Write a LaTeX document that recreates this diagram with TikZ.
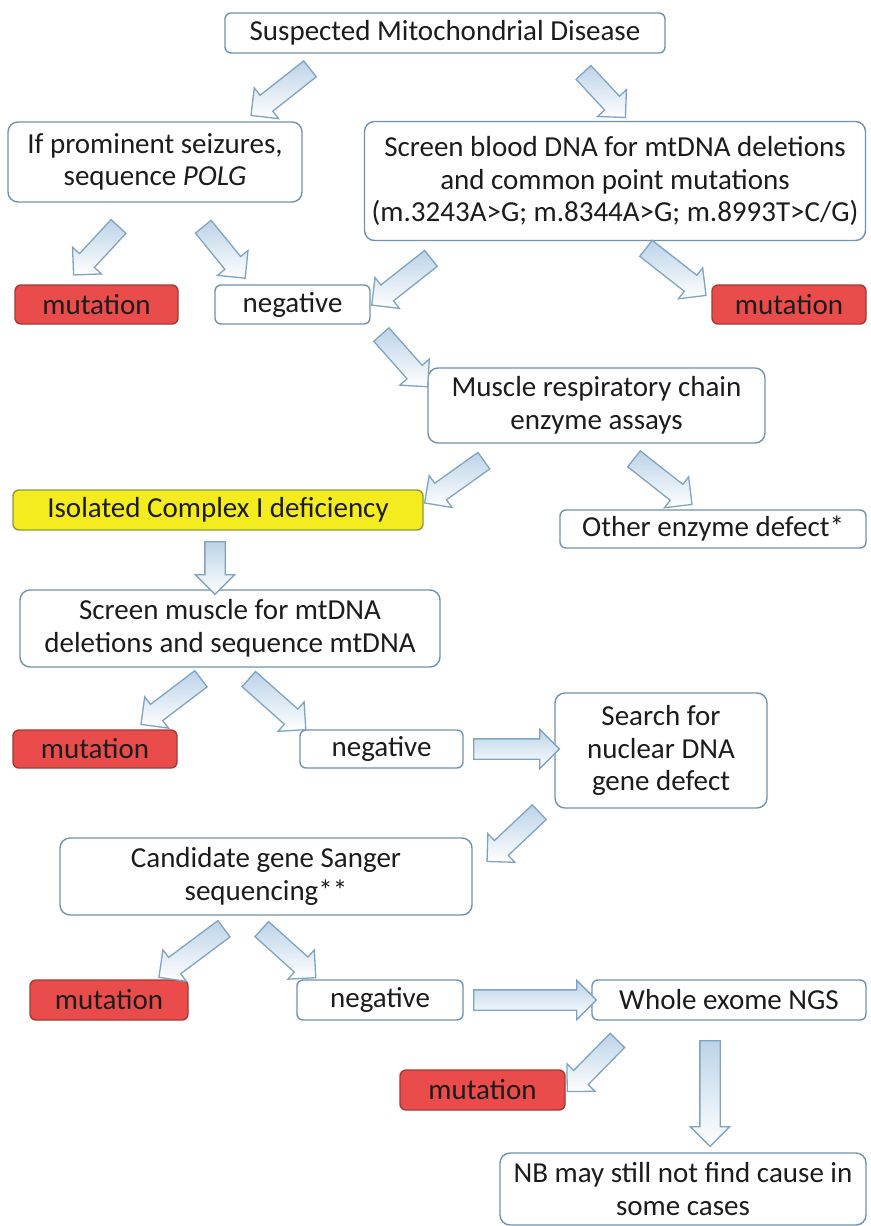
\documentclass[tikz,border=0pt]{standalone}
\usepackage{fontspec}
\setmainfont{Carlito}
\usetikzlibrary{shapes.arrows,calc}
\definecolor{bord}{HTML}{6F93AE}
\definecolor{txt}{HTML}{1C1C1C}
\definecolor{redfill}{HTML}{EA4B4B}
\definecolor{redbord}{HTML}{A33A34}
\definecolor{yelfill}{HTML}{F4EC1E}
\definecolor{yelbord}{HTML}{8E9A3C}
\definecolor{arrfill}{HTML}{BCD3E8}
\definecolor{arrbord}{HTML}{7FA4C3}
\newcommand\barrow[2]{%
  \path let \p1=(#1), \p2=(#2), \n1={atan2(\y2-\y1,\x2-\x1)}, \n2={veclen(\x2-\x1,\y2-\y1)} in
    node[barr, rotate=\n1, minimum height=\n2] at ($(\p1)!0.5!(\p2)$) {};}
\begin{document}
\begin{tikzpicture}[x=1pt,y=-1pt,
  box/.style={draw=bord, line width=1.4pt, fill=white, rounded corners=10pt, align=center,
    inner sep=0pt, font=\fontsize{29}{32.5}\selectfont, text=txt},
  sbox/.style={box, rounded corners=6pt},
  mutbox/.style={sbox, fill=redfill, draw=redbord},
  yelbox/.style={sbox, fill=yelfill, draw=yelbord},
  barr/.style={single arrow, draw=arrbord, line width=1.3pt, top color=arrfill, bottom color=white,
    text height=19pt, text depth=0pt, inner sep=0pt, single arrow head extend=9.5pt,
    single arrow tip angle=90}]
\useasboundingbox (0,0) rectangle (870,1226);
\fill[white] (0,0) rectangle (870,1226);

\node[sbox, minimum width=440pt, minimum height=40pt] (sus) at (445,33) {Suspected Mitochondrial Disease};
\node[box, minimum width=294pt, minimum height=80pt] (seiz) at (155,162) {If prominent seizures,\\ sequence \textit{POLG}};
\node[box, minimum width=501pt, minimum height=119pt] (blood) at (615,181) {Screen blood DNA for mtDNA deletions\\ and common point mutations\\ (m.3243A>G; m.8344A>G; m.8993T>C/G)};
\node[mutbox, minimum width=163pt, minimum height=39pt] (mut1) at (96.5,304.5) {mutation};
\node[sbox, minimum width=155pt, minimum height=39pt] (neg1) at (292.5,304.5) {negative};
\node[mutbox, minimum width=154pt, minimum height=39pt] (mut2) at (789,304.5) {mutation};
\node[box, minimum width=337pt, minimum height=75pt] (musc) at (596.5,405.5) {Muscle respiratory chain\\ enzyme assays};
\node[yelbox, minimum width=410pt, minimum height=40pt] (iso) at (218,510) {Isolated Complex I deficiency};
\node[sbox, minimum width=306pt, minimum height=38pt] (other) at (713,529) {Other enzyme defect*};
\node[box, minimum width=420pt, minimum height=77pt] (scr) at (230,628.5) {Screen muscle for mtDNA\\ deletions and sequence mtDNA};
\node[mutbox, minimum width=164pt, minimum height=38pt] (mut3) at (95,749) {mutation};
\node[sbox, minimum width=163pt, minimum height=38pt] (neg2) at (381.5,749) {negative};
\node[box, minimum width=212pt, minimum height=115pt] (search) at (661,750.5) {Search for\\ nuclear DNA\\ gene defect};
\node[box, minimum width=412pt, minimum height=77pt] (cand) at (266,876.5) {Candidate gene Sanger\\ sequencing**};
\node[mutbox, minimum width=158pt, minimum height=40pt] (mut4) at (109,1000) {mutation};
\node[sbox, minimum width=166pt, minimum height=40pt] (neg3) at (380,1000) {negative};
\node[sbox, minimum width=274pt, minimum height=40pt] (wes) at (729,1000) {Whole exome NGS};
\node[mutbox, minimum width=165pt, minimum height=40pt] (mut5) at (482.5,1090) {mutation};
\node[box, minimum width=366pt, minimum height=72pt] (nb) at (683,1189) {NB may still not find cause in\\ some cases};

\barrow{$(sus.south)+(-131,12)$}{$(seiz.north)+(100,-9)$}
\barrow{$(sus.south)+(135,15)$}{$(blood.north)+(7,-7)$}
\barrow{$(seiz.south)+(-33,20)$}{$(mut1.north)+(-19.5,-13)$}
\barrow{$(seiz.south)+(45,20)$}{$(neg1.north)+(-50.5,-10)$}
\barrow{$(blood.south)+(-180,14)$}{$(neg1.east)+(5,-2.5)$}
\barrow{$(blood.south)+(27,4)$}{$(mut2.north)+(-87,8)$}
\barrow{$(neg1.south)+(85.5,6)$}{$(musc.west)+(-3,-22.5)$}
\barrow{$(musc.south)+(-108.5,14)$}{$(iso.east)+(5,-10)$}
\barrow{$(musc.south)+(33.5,12)$}{$(other.north)+(-25,-8)$}
\barrow{$(iso.south)+(-3,6)$}{$(scr.north)+(-15,0)$}
\barrow{$(scr.south)+(-25,8)$}{$(mut3.north)+(50,-8)$}
\barrow{$(scr.south)+(15,8)$}{$(neg2.north)+(-79.5,-3)$}
\barrow{$(neg2.east)+(5,0)$}{$(search.west)+(0,-1.5)$}
\barrow{$(search.south)+(-118,0)$}{$(cand.east)+(18,-18.5)$}
\barrow{$(cand.south)+(-38,10)$}{$(mut4.north)+(54,-5)$}
\barrow{$(cand.south)+(-8,10)$}{$(neg3.north)+(-68,-5)$}
\barrow{$(neg3.east)+(5,0)$}{$(wes.west)+(0,0)$}
\barrow{$(wes.south)+(-108,16)$}{$(mut5.east)+(5,-2)$}
\barrow{$(wes.south)+(-19,15)$}{$(nb.north)+(27,-11)$}
\end{tikzpicture}
\end{document}
